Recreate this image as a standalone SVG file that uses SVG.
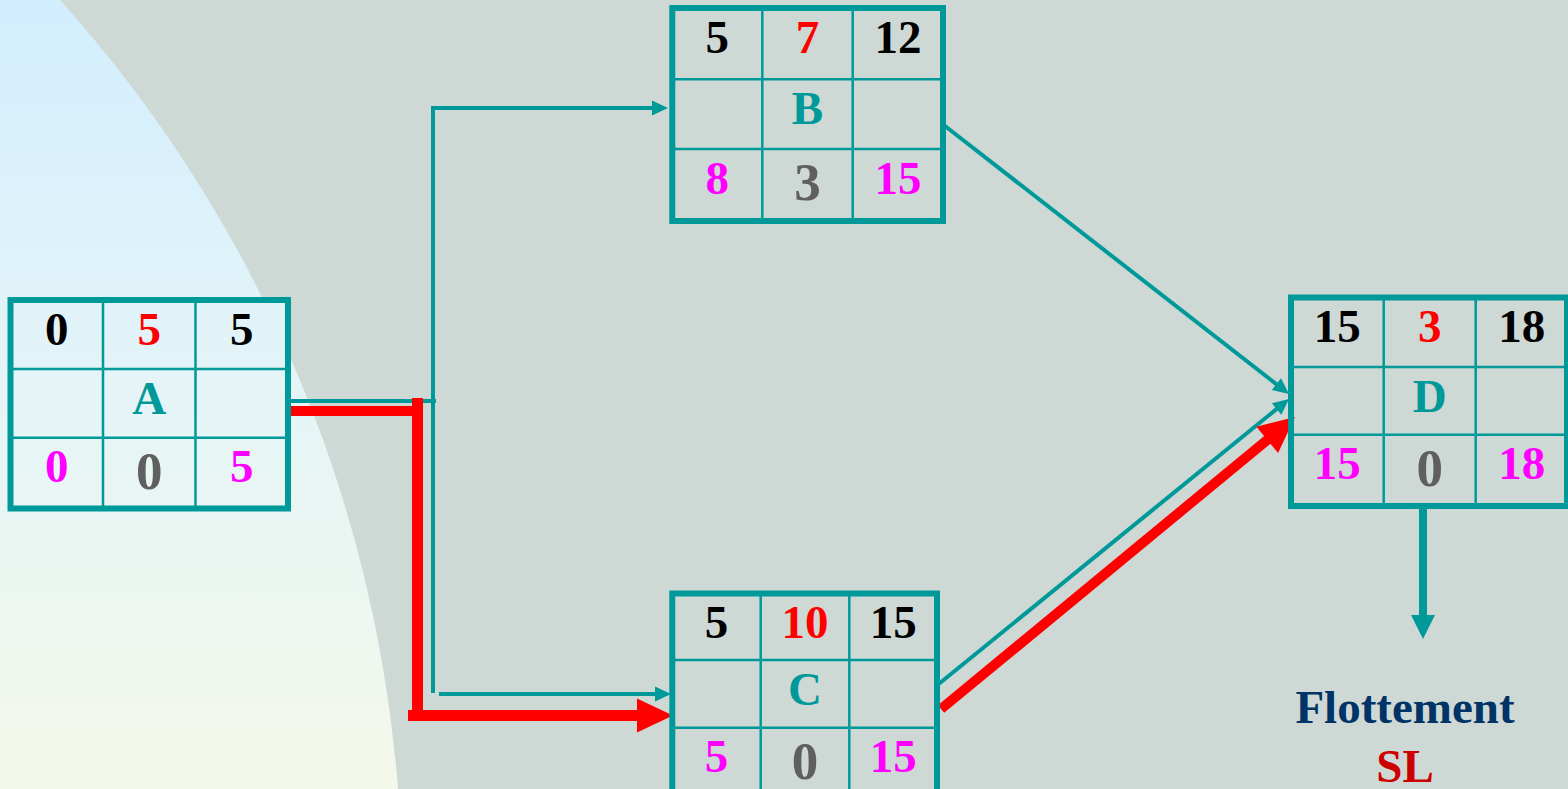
<svg xmlns="http://www.w3.org/2000/svg" width="1568" height="789" viewBox="0 0 1568 789">
<defs>
<linearGradient id="bg" gradientUnits="userSpaceOnUse" x1="0" y1="0" x2="0" y2="789">
<stop offset="0" stop-color="#D2EEFE"/>
<stop offset="0.45" stop-color="#E3F4F8"/>
<stop offset="1" stop-color="#F4F8EA"/>
</linearGradient>
<marker id="ta" markerUnits="userSpaceOnUse" markerWidth="17" markerHeight="16" refX="8" refY="7.5" orient="auto" overflow="visible">
<path d="M0,0 L16,7.5 L0,15 Z" fill="#009999"/>
</marker>
<marker id="ra" markerUnits="userSpaceOnUse" markerWidth="37" markerHeight="35" refX="6" refY="17" orient="auto" overflow="visible">
<path d="M0,0 L36,17 L0,34 Z" fill="#FF0000"/>
</marker>
<marker id="da" markerUnits="userSpaceOnUse" markerWidth="25" markerHeight="25" refX="6" refY="12" orient="auto" overflow="visible">
<path d="M0,0 L24,12 L0,24 Z" fill="#009999"/>
</marker>
</defs>
<style>
.outer{fill:none;stroke:#009999;stroke-width:6}
.grid{stroke:#009999;stroke-width:2.5}
.t{font-family:"Liberation Serif","Times New Roman",serif;font-weight:bold;font-size:47px;text-anchor:middle}
.g{font-family:"Liberation Serif","Times New Roman",serif;font-weight:bold;font-size:53px;text-anchor:middle;fill:#5F5F5F}
.k{fill:#000000}
.r{fill:#FF0000}
.m{fill:#FF00FF}
.l{fill:#009999}
.tc{fill:none;stroke:#009999;stroke-width:4}
.rc{fill:none;stroke:#FF0000}
</style>
<rect x="0" y="0" width="1568" height="789" fill="#CED8D5"/>
<path d="M0,0 H60 A1334,1334 0 0 1 398,789 H0 Z" fill="url(#bg)"/>

<g id="connectors">
<path class="tc" d="M288,401 H436"/>
<path class="tc" d="M433,401 V108 H660" marker-end="url(#ta)"/>
<path class="tc" d="M433,401 V693"/>
<path class="tc" d="M439,694 H663" marker-end="url(#ta)"/>
<path class="tc" d="M945,126 L1282.7,389.1" marker-end="url(#ta)"/>
<path class="tc" d="M935,687 L1282.8,404" marker-end="url(#ta)"/>
<path class="rc" stroke-width="10" d="M289,411 H423"/>
<path class="rc" stroke-width="11" d="M417.5,398 V721"/>
<path class="rc" stroke-width="11" d="M408,715.5 H643" marker-end="url(#ra)"/>
<path class="rc" stroke-width="10" d="M941,709 L1271.9,436.1" marker-end="url(#ra)"/>
<path fill="none" stroke="#009999" stroke-width="8" d="M1423,509 V621" marker-end="url(#da)"/>
</g>

<g id="node-A">
<rect x="10.5" y="300" width="277.5" height="208.5" fill="url(#bg)" stroke="none"/>
<line class="grid" x1="103" y1="300" x2="103" y2="508.5"/>
<line class="grid" x1="195.5" y1="300" x2="195.5" y2="508.5"/>
<line class="grid" x1="10.5" y1="369" x2="288" y2="369"/>
<line class="grid" x1="10.5" y1="437.7" x2="288" y2="437.7"/>
<rect class="outer" x="10.5" y="300" width="277.5" height="208.5"/>
<text class="t k" x="56.75" y="344.5">0</text>
<text class="t r" x="149.25" y="344.5">5</text>
<text class="t k" x="241.75" y="344.5">5</text>
<text class="t l" x="149.25" y="413.5">A</text>
<text class="t m" x="56.75" y="482.2">0</text>
<text class="g" x="149.25" y="489">0</text>
<text class="t m" x="241.75" y="482.2">5</text>
</g>

<g id="node-B">
<line class="grid" x1="762.3" y1="8" x2="762.3" y2="221"/>
<line class="grid" x1="852.7" y1="8" x2="852.7" y2="221"/>
<line class="grid" x1="672.3" y1="79.3" x2="943" y2="79.3"/>
<line class="grid" x1="672.3" y1="149" x2="943" y2="149"/>
<rect class="outer" x="672.3" y="8" width="270.7" height="213"/>
<text class="t k" x="717.3" y="52.5">5</text>
<text class="t r" x="807.5" y="52.5">7</text>
<text class="t k" x="897.9" y="52.5">12</text>
<text class="t l" x="807.5" y="123.8">B</text>
<text class="t m" x="717.3" y="193.5">8</text>
<text class="g" x="807.5" y="200">3</text>
<text class="t m" x="897.9" y="193.5">15</text>
</g>

<g id="node-C">
<line class="grid" x1="760.7" y1="593.5" x2="760.7" y2="796"/>
<line class="grid" x1="849.3" y1="593.5" x2="849.3" y2="796"/>
<line class="grid" x1="672.3" y1="660" x2="937" y2="660"/>
<line class="grid" x1="672.3" y1="727.7" x2="937" y2="727.7"/>
<rect class="outer" x="672.3" y="593.5" width="264.7" height="203"/>
<text class="t k" x="716.5" y="638">5</text>
<text class="t r" x="805" y="638">10</text>
<text class="t k" x="893.2" y="638">15</text>
<text class="t l" x="805" y="704.5">C</text>
<text class="t m" x="716.5" y="772.2">5</text>
<text class="g" x="805" y="779">0</text>
<text class="t m" x="893.2" y="772.2">15</text>
</g>

<g id="node-D">
<line class="grid" x1="1383.7" y1="297.5" x2="1383.7" y2="506"/>
<line class="grid" x1="1475.7" y1="297.5" x2="1475.7" y2="506"/>
<line class="grid" x1="1291" y1="367" x2="1567" y2="367"/>
<line class="grid" x1="1291" y1="434.7" x2="1567" y2="434.7"/>
<rect class="outer" x="1291" y="297.5" width="276" height="208.5"/>
<text class="t k" x="1337.3" y="342">15</text>
<text class="t r" x="1429.7" y="342">3</text>
<text class="t k" x="1521.7" y="342">18</text>
<text class="t l" x="1429.7" y="411.5">D</text>
<text class="t m" x="1337.3" y="479.2">15</text>
<text class="g" x="1429.7" y="486">0</text>
<text class="t m" x="1521.7" y="479.2">18</text>
</g>

<g id="legend">
<text class="t" x="1405" y="723" font-size="48" fill="#003366">Flottement</text>
<text class="t" x="1405" y="782" font-size="48" fill="#CC0000">SL</text>
</g>
</svg>
